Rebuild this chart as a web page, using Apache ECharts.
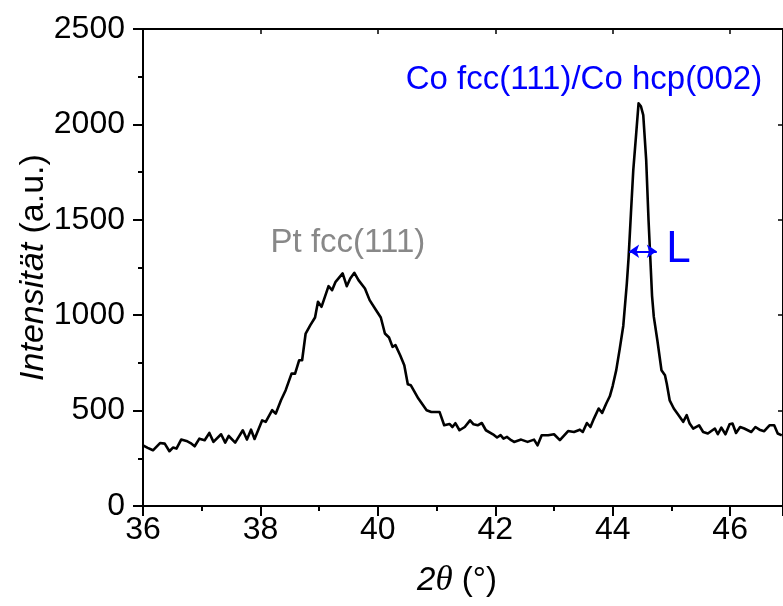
<!DOCTYPE html>
<html><head><meta charset="utf-8">
<script src="https://cdn.jsdelivr.net/npm/echarts@6/dist/echarts.min.js"></script>
<style>html,body{margin:0;padding:0;background:#fff}#c{width:783px;height:606px}</style>
</head><body><div id="c"></div>
<script>
const twoTheta = [36.00,36.08,36.17,36.29,36.37,36.45,36.51,36.57,36.65,36.74,36.81,36.88,36.96,37.05,37.13,37.20,37.33,37.40,37.46,37.57,37.70,37.77,37.84,37.90,38.03,38.09,38.20,38.26,38.35,38.43,38.53,38.59,38.66,38.71,38.77,38.85,38.93,38.98,39.04,39.16,39.22,39.28,39.40,39.47,39.53,39.60,39.67,39.78,39.86,39.97,40.05,40.12,40.19,40.25,40.30,40.38,40.45,40.51,40.56,40.69,40.83,40.91,41.05,41.13,41.22,41.27,41.32,41.39,41.48,41.57,41.63,41.70,41.77,41.84,41.96,42.03,42.09,42.14,42.20,42.27,42.32,42.44,42.55,42.66,42.72,42.79,42.90,43.00,43.10,43.24,43.34,43.44,43.49,43.56,43.62,43.68,43.76,43.82,43.89,43.95,44.00,44.06,44.12,44.18,44.24,44.27,44.31,44.35,44.40,44.44,44.48,44.52,44.57,44.61,44.64,44.67,44.70,44.76,44.83,44.89,44.92,44.97,45.04,45.11,45.20,45.26,45.31,45.37,45.47,45.54,45.62,45.74,45.79,45.85,45.92,45.99,46.04,46.10,46.17,46.24,46.36,46.43,46.50,46.58,46.67,46.75,46.81,46.88];
const intensity = [318,305,292,330,327,287,306,301,348,341,330,313,353,345,383,336,376,332,367,332,397,348,400,351,449,441,502,484,554,607,694,694,764,764,904,948,988,1070,1044,1152,1131,1175,1219,1152,1192,1222,1184,1140,1079,1026,988,904,883,834,843,790,738,638,633,563,502,493,493,423,430,414,434,397,414,449,428,423,435,397,376,359,371,353,362,345,336,348,336,348,318,371,371,376,345,393,388,400,388,435,414,458,511,488,537,575,630,712,825,945,1166,1300,1533,1760,1953,2110,2095,2049,1813,1498,1300,1100,991,869,712,685,642,554,511,481,441,476,432,406,423,388,380,406,376,411,376,428,432,383,414,406,388,414,400,392,423,423,380,370];
const xTickRange = [36, 46.9, 2];
const yTickRange = [0, 2500, 500];
const xTitle = '{i|2}{t|θ} (°)';
const yTitle = '{i|Intensität} (a.u.)';
const peakLabels = ['Pt fcc(111)', 'Co fcc(111)/Co hcp(002)', 'L'];
const peakLabelAt = [[39.49, 1378], [43.51, 2232], [45.12, 1341]];
const widthArrow = [[44.28, 1335], [44.75, 1335]];

const FONT = 'Liberation Sans';
const chart = echarts.init(document.getElementById('c'), null, {renderer: 'canvas'});
const axisLine = {show: true, onZero: false, lineStyle: {color: '#000', width: 2}};
const data = twoTheta.map((x, i) => [x, intensity[i]]);
const plain = v => String(v);

chart.setOption({
  animation: false,
  backgroundColor: '#fff',
  grid: {left: 143, top: 29, width: 644, height: 477, containLabel: false},
  xAxis: [{
    type: 'value', position: 'bottom', min: xTickRange[0], max: xTickRange[1], interval: xTickRange[2],
    axisLine: axisLine,
    axisTick: {show: true, inside: false, length: 10, lineStyle: {color: '#000', width: 2}},
    minorTick: {show: true, splitNumber: 2, length: 5, lineStyle: {color: '#000', width: 2}},
    splitLine: {show: false}, minorSplitLine: {show: false},
    axisLabel: {fontSize: 32, color: '#000', fontFamily: FONT, margin: 8, showMaxLabel: false, formatter: plain},
    name: xTitle, nameLocation: 'middle', nameGap: 57, nameMoveOverlap: false,
    nameTextStyle: {fontSize: 33, color: '#000', fontFamily: FONT, padding: [0, 12, 0, 0],
      rich: {i: {fontSize: 33, fontStyle: 'italic', fontFamily: FONT, color: '#000'},
             t: {fontSize: 35, fontStyle: 'italic', fontFamily: 'Liberation Serif', color: '#000'}}}
  }, {
    type: 'value', position: 'top', min: xTickRange[0], max: xTickRange[1], interval: xTickRange[2],
    axisLine: axisLine,
    axisTick: {show: true, inside: true, length: 5, lineStyle: {color: '#000', width: 1.5}},
    axisLabel: {show: false}, splitLine: {show: false}
  }],
  yAxis: [{
    type: 'value', position: 'left', min: yTickRange[0], max: yTickRange[1], interval: yTickRange[2],
    axisLine: axisLine,
    axisTick: {show: true, inside: false, length: 10, lineStyle: {color: '#000', width: 2}},
    minorTick: {show: true, splitNumber: 2, length: 5, lineStyle: {color: '#000', width: 2}},
    splitLine: {show: false}, minorSplitLine: {show: false},
    axisLabel: {fontSize: 32, color: '#000', fontFamily: FONT, margin: 18, formatter: plain},
    name: yTitle, nameLocation: 'middle', nameGap: 92, nameMoveOverlap: false,
    nameTextStyle: {fontSize: 34, color: '#000', fontFamily: FONT,
      rich: {i: {fontSize: 34, fontStyle: 'italic', fontFamily: FONT, color: '#000'}}}
  }, {
    type: 'value', position: 'right', min: yTickRange[0], max: yTickRange[1], interval: yTickRange[2],
    axisLine: axisLine,
    axisTick: {show: true, inside: true, length: 5, lineStyle: {color: '#000', width: 1.5}},
    axisLabel: {show: false}, splitLine: {show: false}
  }],
  series: [{
    type: 'line', data: data, xAxisIndex: 0, yAxisIndex: 0,
    showSymbol: false, symbol: 'none', clip: true,
    lineStyle: {color: '#000', width: 2.6, join: 'round'},
    markLine: {
      silent: true, symbol: ['arrow', 'arrow'], symbolSize: [10, 10],
      lineStyle: {color: '#0000ff', width: 2, type: 'solid'},
      label: {show: false},
      data: [[{coord: widthArrow[0]}, {coord: widthArrow[1]}]]
    },
    markPoint: {
      silent: true, symbol: 'circle', symbolSize: 1,
      itemStyle: {color: 'rgba(0,0,0,0)'},
      data: [
        {coord: peakLabelAt[0], label: {show: true, position: 'inside', formatter: peakLabels[0], color: '#888888', fontSize: 33, fontFamily: FONT}},
        {coord: peakLabelAt[1], label: {show: true, position: 'inside', formatter: peakLabels[1], color: '#0000ff', fontSize: 33, fontFamily: FONT}},
        {coord: peakLabelAt[2], label: {show: true, position: 'inside', formatter: peakLabels[2], color: '#0000ff', fontSize: 44, fontFamily: FONT}}
      ]
    }
  }]
});
</script></body></html>
